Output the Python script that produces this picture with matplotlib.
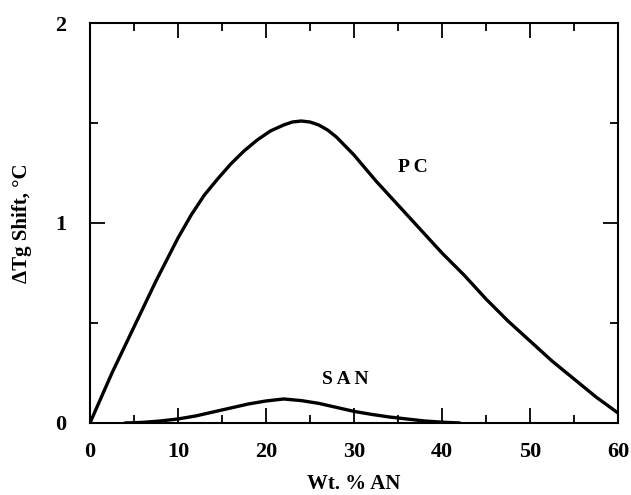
import matplotlib
matplotlib.use("Agg")
import matplotlib.pyplot as plt
from matplotlib.ticker import MultipleLocator

# Data
pc_x = [0, 2.5, 5, 7.5, 10, 11.5, 13, 14.5, 16, 17.5, 19, 20.5, 22, 23, 24, 25, 26, 27,
        28, 30, 32.5, 35, 37.5, 40, 42.5, 45, 47.5, 50, 52.5, 55, 57.5, 60]
pc_y = [0, 0.25, 0.48, 0.71, 0.925, 1.04, 1.14, 1.22, 1.295, 1.36, 1.415, 1.46, 1.49,
        1.505, 1.51, 1.505, 1.49, 1.465, 1.43, 1.34, 1.21, 1.09, 0.97, 0.85, 0.74, 0.62,
        0.51, 0.41, 0.31, 0.22, 0.13, 0.05]

san_x = [4, 6, 8, 10, 12, 14, 16, 18, 20, 22, 24, 26, 28, 30, 32, 34, 36, 38, 40, 42]
san_y = [0, 0.003, 0.01, 0.02, 0.035, 0.055, 0.075, 0.095, 0.11, 0.12, 0.112, 0.098,
         0.078, 0.058, 0.043, 0.03, 0.02, 0.01, 0.004, 0]

x_ticks = [0, 10, 20, 30, 40, 50, 60]
y_ticks = [0, 1, 2]

plt.rcParams['font.family'] = ['Liberation Serif', 'DejaVu Serif']

fig = plt.figure(figsize=(6.31, 4.95), dpi=100)
ax = fig.add_axes([0.1426, 0.1455, 0.8368, 0.808])

ax.plot(pc_x, pc_y, color='black', lw=2.4, solid_capstyle='round', solid_joinstyle='round')
ax.plot(san_x, san_y, color='black', lw=2.4, solid_capstyle='round', solid_joinstyle='round')

ax.set_xlim(0, 60)
ax.set_ylim(0, 2)
ax.set_xticks(x_ticks)
ax.set_yticks(y_ticks)
ax.xaxis.set_minor_locator(MultipleLocator(5))
ax.yaxis.set_minor_locator(MultipleLocator(0.5))

ax.tick_params(which='both', direction='in', top=True, right=True, width=1.3, colors='black')
ax.tick_params(which='major', length=11, labelsize=16)
ax.tick_params(axis='x', which='major', pad=14)
ax.tick_params(axis='y', which='major', pad=17)
ax.tick_params(which='minor', length=6)
for lab in ax.get_xticklabels() + ax.get_yticklabels():
    lab.set_fontweight('bold')

for sp in ax.spines.values():
    sp.set_linewidth(1.5)

ax.text(36.7, 1.28, 'P C', fontsize=14, fontweight='bold', ha='center', va='center')
ax.text(29.0, 0.215, 'S A N', fontsize=14, fontweight='bold', ha='center', va='center')

ax.set_xlabel('Wt. % AN', fontsize=15, fontweight='bold', labelpad=8)
ax.set_ylabel('ΔTg Shift, °C', fontsize=15, fontweight='bold', labelpad=17)

fig.savefig('out.png', dpi=100)
